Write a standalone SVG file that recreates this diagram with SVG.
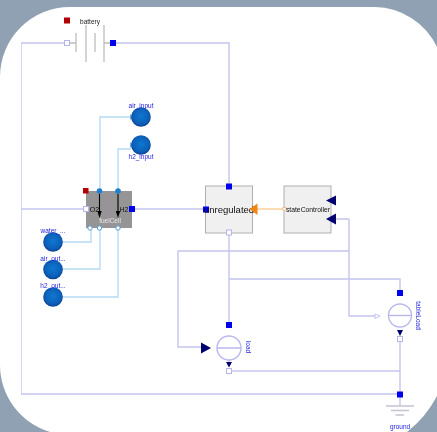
<svg xmlns="http://www.w3.org/2000/svg" width="437" height="432" viewBox="0 0 437 432">
<style>
.e{fill:none;stroke:#c4c4f0;stroke-width:1.4}
.f{fill:none;stroke:#b8daf4;stroke-width:1.4}
.t{font-family:"Liberation Sans",Arial,sans-serif;font-size:6.5px;text-anchor:middle}
.n{fill:#2222dd}
.g{stroke:#bdbdbd;stroke-width:1.3;fill:none}
.p{fill:#0000ee}
.o{fill:#fff;stroke:#b4b4ee;stroke-width:1}
.a{fill:#00006e}
.box{fill:#f0f0f0;stroke:#b0b0b0;stroke-width:1}
.fp{fill:#fff;stroke:#5a9bd0;stroke-width:1}
.r{fill:#fff;stroke:#b8b8ee;stroke-width:1.4}
.l{stroke:#b8b8ee;stroke-width:1.4;fill:none}
</style>
<defs>
<radialGradient id="ball" cx="50%" cy="45%" r="55%"><stop offset="0" stop-color="#0f78d0"/><stop offset="0.75" stop-color="#0b5fb8"/><stop offset="1" stop-color="#0a3f90"/></radialGradient>
<filter id="soft" x="0" y="0" width="100%" height="100%"><feGaussianBlur stdDeviation="0.35"/></filter>
</defs>
<rect width="437" height="432" fill="#fff"/>
<g filter="url(#soft)">
<g id="connectors">
<path class="e" d="M67 43H21V394H400"/>
<path class="e" d="M113 43H229V187"/>
<path class="e" d="M21 209H206"/>
<path class="e" d="M229 232V325"/>
<path class="e" d="M349 219V316H375M349 251H178V347H201M349 219H327"/>
<path class="e" d="M229 279H400V293"/>
<path class="e" d="M229 371H400"/>
<path class="e" d="M400 338V406"/>
<path class="f" d="M100 191V117H131"/>
<path class="f" d="M118 191V149H131"/>
<path class="f" d="M91 228V242H62"/>
<path class="f" d="M100 228V269H62"/>
<path class="f" d="M118 228V297H62"/>
<path d="M284 209H250" fill="none" stroke="#fbcf9f" stroke-width="1.3"/>
</g>
<g id="battery">
<rect x="64" y="17.500" width="6" height="6" fill="#b30000"/>
<path class="g" d="M70 43H76M76 33V52M86 25V62M95 33V52M104 25V62M104 43H110"/>
<rect class="o" x="64.500" y="40.500" width="5" height="5"/>
<rect class="p" x="110" y="40" width="6" height="6"/>
<text class="t" x="90" y="24" fill="#222">battery</text>
</g>
<g id="air_input">
<rect x="130" y="114.500" width="5" height="5" fill="#6fa8dc"/>
<circle cx="141" cy="117" r="9.800" fill="url(#ball)"/>
<text class="t n" x="141" y="107.500">air_input</text>
</g>
<g id="h2_input">
<rect x="130" y="142.500" width="5" height="5" fill="#6fa8dc"/>
<circle cx="141" cy="145" r="9.800" fill="url(#ball)"/>
<text class="t n" x="141" y="159">h2_input</text>
</g>
<g id="water">
<circle cx="53" cy="242" r="9.800" fill="url(#ball)"/>
<text class="t n" x="53" y="233">water_...</text>
</g>
<g id="air_output">
<circle cx="53" cy="269.500" r="9.800" fill="url(#ball)"/>
<text class="t n" x="53" y="260.500">air_out...</text>
</g>
<g id="h2_output">
<circle cx="53" cy="297" r="9.800" fill="url(#ball)"/>
<text class="t n" x="53" y="288">h2_out...</text>
</g>
<g id="fuelCell">
<rect x="86" y="191" width="46" height="37" fill="#959595"/>
<path d="M109 191V228" stroke="#a58aa5" stroke-width="1"/>
<path d="M99.500 194V213M118 194V213" stroke="#000" stroke-width="1.100"/>
<path d="M97.300 211L99.500 218L101.700 211ZM115.800 211L118 218L120.200 211Z" fill="#000"/>
<rect x="83" y="188" width="5.500" height="5.500" fill="#b30000"/>
<circle cx="99.500" cy="191" r="2.800" fill="#1e7fd0"/>
<circle cx="118" cy="191" r="2.800" fill="#1e7fd0"/>
<circle class="fp" cx="90" cy="228" r="2.200"/>
<circle class="fp" cx="99.500" cy="228" r="2.200"/>
<circle class="fp" cx="118" cy="228" r="2.200"/>
<rect class="o" x="83.500" y="206.500" width="5" height="5"/>
<rect class="p" x="129" y="206" width="6" height="6"/>
<text class="t" x="94.500" y="212" fill="#111" style="font-size:7px">O2</text>
<text class="t" x="124" y="212" fill="#111" style="font-size:7px">H2</text>
<text class="t" x="110" y="223" fill="#e6e6e6">fuelCell</text>
</g>
<g id="unregulated">
<rect class="box" x="205.500" y="186" width="47" height="47"/>
<rect class="p" x="226" y="183.500" width="6" height="6"/>
<rect class="p" x="203" y="206.500" width="6" height="6"/>
<rect class="o" x="226.500" y="230" width="5" height="5"/>
<text class="t" x="229" y="212.500" fill="#111" style="font-size:9.500px">unregulated</text>
<path d="M257.500 203.500V215L249.500 209Z" fill="#f28412"/>
</g>
<g id="stateController">
<rect class="box" x="284" y="186" width="47" height="47"/>
<path class="a" d="M326 200.500L336 195.500V205.500Z"/>
<path class="a" d="M326 219L336 213.500V224.500Z"/>
<rect x="283" y="207.500" width="3" height="3" fill="#fff" stroke="#f2b070" stroke-width=".7"/>
<text class="t" x="308" y="211.500" fill="#111" style="font-size:6.800px">stateController</text>
</g>
<g id="load">
<circle class="r" cx="229" cy="348" r="12"/>
<path class="l" d="M217 348H241M229 360V364"/>
<path class="a" d="M201 342.500L211 348L201 353.500Z"/>
<path class="a" d="M226 362H232L229 367.500Z"/>
<rect class="p" x="226" y="322" width="6" height="6"/>
<rect class="o" x="226.500" y="368.500" width="5" height="5"/>
<text class="t n" transform="translate(245.500,347) rotate(90)">load</text>
</g>
<g id="tableLoad">
<circle class="r" cx="400" cy="315.500" r="11.500"/>
<path class="l" d="M388.500 315.500H411.500"/>
<path d="M375 314V318.500L380 316Z" fill="#fff" stroke="#b4b4ee" stroke-width=".8"/>
<path class="a" d="M397 330H403L400 336Z"/>
<rect class="p" x="397" y="290" width="6" height="6"/>
<rect class="o" x="397.500" y="336.500" width="5" height="5"/>
<text class="t n" transform="translate(416,315.500) rotate(90)">tableLoad</text>
</g>
<g id="ground">
<rect class="p" x="397" y="391.500" width="6" height="6"/>
<path class="g" d="M386 406H414M391 410.500H409M395.500 415H404" style="stroke:#c4c4d4"/>
<text class="t n" x="400" y="428.500">ground</text>
</g>
</g>
<path id="frame" fill="#8fa1b3" fill-rule="evenodd" d="M0 0H437V432H0ZM0 77A70 70 0 0 1 70 7H375A70 70 0 0 1 437 47V396A110 110 0 0 1 407 432H50A70 70 0 0 1 0 365Z"/>
</svg>
